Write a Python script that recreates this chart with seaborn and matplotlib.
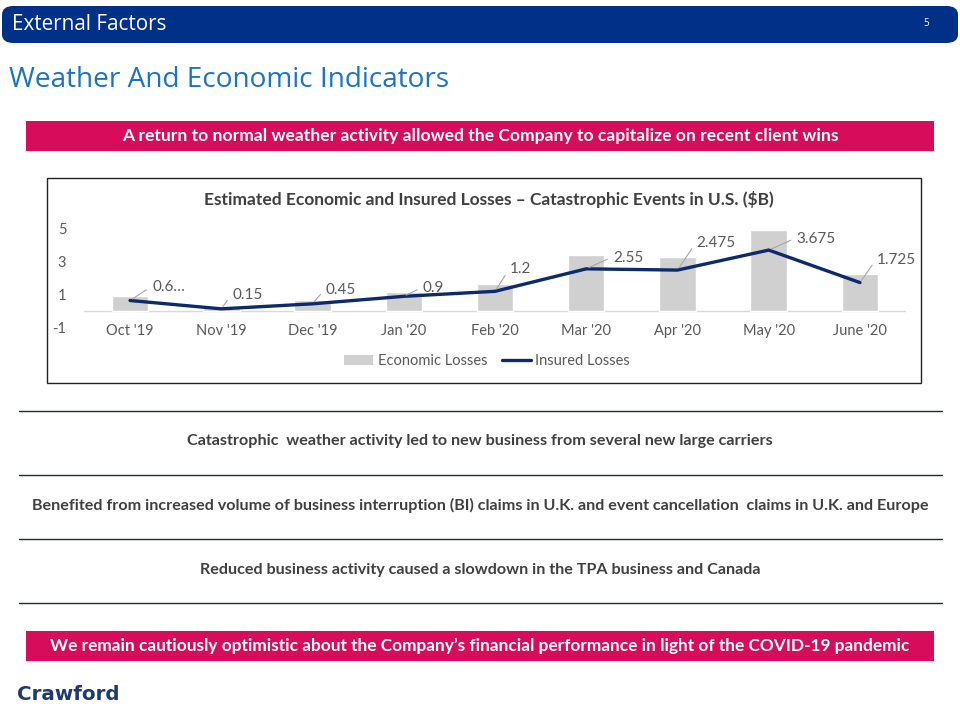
import numpy as np
import pandas as pd
import matplotlib
matplotlib.use("Agg")
import matplotlib.pyplot as plt
from matplotlib.patches import FancyBboxPatch, Rectangle, Patch
from matplotlib.lines import Line2D
import seaborn as sns

# ---------------- data ----------------
months = ["Oct '19", "Nov '19", "Dec '19", "Jan '20", "Feb '20",
          "Mar '20", "Apr '20", "May '20", "June '20"]
economic_losses = [0.9, 0.2, 0.65, 1.15, 1.65, 3.35, 3.25, 4.85, 2.25]
insured_losses = [0.65, 0.15, 0.45, 0.9, 1.2, 2.55, 2.475, 3.675, 1.725]
insured_labels = ["0.6…", "0.15", "0.45", "0.9", "1.2", "2.55", "2.475", "3.675", "1.725"]
y_ticks = [-1, 1, 3, 5]

header_text = "External Factors"
page_number = "5"
slide_title = "Weather And Economic Indicators"
chart_title = "Estimated Economic and Insured Losses – Catastrophic Events in U.S. ($B)"
banner_top = "A return to normal weather activity allowed the Company to capitalize on recent client wins"
banner_bottom = "We remain cautiously optimistic about the Company’s financial performance in light of the COVID-19 pandemic"
bullets = [
    "Catastrophic  weather activity led to new business from several new large carriers",
    "Benefited from increased volume of business interruption (BI) claims in U.K. and event cancellation  claims in U.K. and Europe",
    "Reduced business activity caused a slowdown in the TPA business and Canada",
]
logo_text = "Crawford"

df = pd.DataFrame({"month": months, "economic": economic_losses, "insured": insured_losses})

# ---------------- style ----------------
sns.set_theme(style="white")
plt.rcParams["font.family"] = ["Lato", "DejaVu Sans"]

W, H = 960, 720
fig = plt.figure(figsize=(9.6, 7.2), dpi=100)

def fx(x):
    return x / W

def fy(y):
    return 1 - y / H

NAVY = "#003087"
PINK = "#d70c5a"
TITLE_BLUE = "#1a73c4"
DARK_TEXT = "#404040"
GRAY_TEXT = "#595959"

# header band
hdr = FancyBboxPatch((fx(2), fy(43)), fx(956), (43 - 6) / H,
                     boxstyle="round,pad=0,rounding_size=0.012",
                     transform=fig.transFigure, facecolor=NAVY, edgecolor="none")
fig.patches.append(hdr)
fig.text(fx(12), fy(24), header_text, color="white", fontsize=14.9,
         ha="left", va="center", family=["Open Sans", "DejaVu Sans"])
fig.text(fx(926), fy(24), page_number, color="white", fontsize=7,
         ha="center", va="center", family=["Open Sans", "DejaVu Sans"])

# slide title
fig.text(fx(9), fy(80), slide_title, color=TITLE_BLUE, fontsize=20.2,
         ha="left", va="center", family=["Open Sans", "DejaVu Sans"])

# pink banners
def banner(y0, y1, text, size):
    fig.patches.append(Rectangle((fx(26), fy(y1)), fx(934 - 26), (y1 - y0) / H,
                                 transform=fig.transFigure, facecolor=PINK, edgecolor="none"))
    fig.text(fx(480), fy((y0 + y1) / 2), text, color="white", fontsize=size,
             fontweight="bold", ha="center", va="center")

banner(121, 151, banner_top, 12.6)
banner(631, 661, banner_bottom, 12.4)

# chart frame
frame = Rectangle((fx(47), fy(383)), fx(921 - 47), (383 - 178) / H,
                  transform=fig.transFigure, facecolor="none",
                  edgecolor="#222222", linewidth=1.0, zorder=0)
fig.patches.append(frame)
fig.text(fx(489), fy(200), chart_title, color=DARK_TEXT, fontsize=12.5,
         fontweight="bold", ha="center", va="center")

# plot axes
ax = fig.add_axes([fx(84.4), fy(328), fx(905.6 - 84.4), (328 - 228) / H])
ax.set_zorder(3)
ax.set_facecolor("none")
sns.barplot(data=df, x="month", y="economic", color="#d0d0d0", width=0.4,
            ax=ax, saturation=1, zorder=2)
sns.lineplot(x=np.arange(len(months)), y=insured_losses, ax=ax,
             color="#0d2a6b", linewidth=2.4, zorder=3)
ax.axhline(0, color="#d9d9d9", linewidth=1, zorder=1)
ax.set_ylim(-1, 5)
ax.set_xlim(-0.5, len(months) - 0.5)
ax.set_yticks(y_ticks)
ax.set_yticklabels([str(t) for t in y_ticks])
ax.set_xlabel("")
ax.set_ylabel("")
for s in ax.spines.values():
    s.set_visible(False)
ax.tick_params(axis="both", length=0, labelsize=10.5, labelcolor=GRAY_TEXT)
ax.tick_params(axis="y", pad=13)
ax.tick_params(axis="x", pad=-3)
ax.grid(False)

# data labels with leader lines (offsets in pixels)
offsets = [(22, 13), (11, 14), (13, 14), (19, 8), (15, 22), (27, 11),
           (19, 27), (28, 11), (17, 23)]
for i, (v, lab) in enumerate(zip(insured_losses, insured_labels)):
    dx, dy = offsets[i]
    ax.annotate(lab, xy=(i, v), xytext=(dx, dy), textcoords="offset pixels",
                fontsize=11, color=GRAY_TEXT, ha="left", va="center",
                arrowprops=dict(arrowstyle="-", color="#a6a6a6", lw=0.8,
                                shrinkA=2, shrinkB=2, relpos=(0, 0.6)))

# legend
handles = [Patch(facecolor="#d0d0d0", edgecolor="none", label="Economic Losses"),
           Line2D([0], [0], color="#0d2a6b", lw=2.4, label="Insured Losses")]
fig.legend(handles=handles, loc="center", bbox_to_anchor=(fx(487), fy(361)),
           ncol=2, frameon=False, fontsize=10.5, labelcolor=GRAY_TEXT,
           handlelength=2.0, handletextpad=0.3, columnspacing=1.0)

# separator lines and bullet texts
for yy in [411, 475, 539, 603]:
    fig.add_artist(Line2D([fx(19), fx(942)], [fy(yy), fy(yy)],
                          transform=fig.transFigure, color="#1c2b39", linewidth=1.0))
for yy, t in zip([441, 505, 570], bullets):
    fig.text(fx(480), fy(yy), t, color=DARK_TEXT, fontsize=11.6,
             fontweight="bold", ha="center", va="center")

# logo
fig.text(fx(17), fy(695), logo_text, color="#1f3a6e", fontsize=14.3,
         fontweight="bold", ha="left", va="center", family=["DejaVu Sans"])

fig.savefig("out.png", dpi=100)
